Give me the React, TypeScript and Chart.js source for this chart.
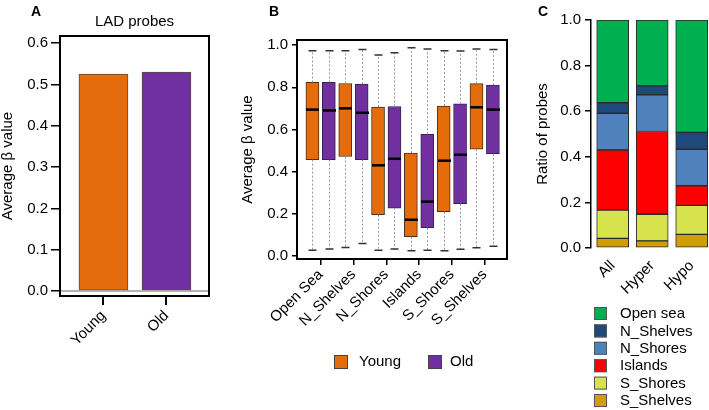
import React, { useEffect, useRef } from "react";
import { Chart, registerables } from "chart.js";

Chart.register(...registerables);

const FONT = "'Liberation Sans', Arial, Helvetica, sans-serif";

// ---------- Panel A data ----------
const ladGroups = ["Young", "Old"];
const ladValues = [0.525, 0.53];
const groupColors = ["#E46C0A", "#7030A0"];
const ladTicks = [0, 0.1, 0.2, 0.3, 0.4, 0.5, 0.6];

// ---------- Panel B data ----------
const regions = ["Open Sea", "N_Shelves", "N_Shores", "Islands", "S_Shores", "S_Shelves"];
const youngMin = [0.027, 0.041, 0.028, 0.025, 0.025, 0.039];
const youngQ1 = [0.457, 0.472, 0.196, 0.092, 0.21, 0.506];
const youngMedian = [0.694, 0.7, 0.43, 0.172, 0.452, 0.705];
const youngQ3 = [0.823, 0.818, 0.706, 0.488, 0.711, 0.817];
const youngMax = [0.973, 0.973, 0.953, 0.987, 0.973, 0.981];
const oldMin = [0.033, 0.06, 0.033, 0.028, 0.032, 0.047];
const oldQ1 = [0.457, 0.457, 0.227, 0.134, 0.248, 0.485];
const oldMedian = [0.69, 0.679, 0.461, 0.258, 0.48, 0.694];
const oldQ3 = [0.823, 0.815, 0.709, 0.577, 0.722, 0.81];
const oldMax = [0.973, 0.979, 0.964, 0.981, 0.972, 0.979];
const betaTicks = [0, 0.2, 0.4, 0.6, 0.8, 1.0];

// ---------- Panel C data ----------
const probeSets = ["All", "Hyper", "Hypo"];
const sShelves = [0.042, 0.031, 0.06];
const sShores = [0.124, 0.117, 0.127];
const islands = [0.264, 0.363, 0.086];
const nShores = [0.161, 0.161, 0.16];
const nShelves = [0.046, 0.039, 0.074];
const openSea = [0.363, 0.289, 0.493];
const ratioTicks = [0, 0.2, 0.4, 0.6, 0.8, 1.0];

const font15 = { family: FONT, size: 15 };

const framePlugin = {
  id: "frame",
  afterDraw(chart: any) {
    const { ctx, chartArea: a } = chart;
    ctx.save();
    ctx.strokeStyle = "#000";
    ctx.lineWidth = 2;
    ctx.strokeRect(a.left, a.top, a.right - a.left, a.bottom - a.top);
    ctx.restore();
  },
};

function textPlugin(items: { text: string; x: number; y: number; bold?: boolean; align?: string; size?: number }[]) {
  return {
    id: "texts",
    afterDraw(chart: any) {
      const ctx = chart.ctx;
      ctx.save();
      ctx.fillStyle = "#000";
      ctx.textBaseline = "alphabetic";
      items.forEach((it) => {
        ctx.font = `${it.bold ? "bold " : ""}${it.size || 15}px ${FONT}`;
        ctx.textAlign = it.align || "left";
        ctx.fillText(it.text, it.x, it.y);
      });
      ctx.restore();
    },
  };
}

function yScale(min: number, max: number, ticks: number[], width: number, tl: number, pad: number, title: string | null, titlePadTop: number, showBorder = false) {
  return {
    type: "linear",
    min,
    max,
    afterBuildTicks: (s: any) => {
      s.ticks = ticks.map((v) => ({ value: v }));
    },
    afterFit: (s: any) => {
      s.width = width;
    },
    ticks: { callback: (v: any) => Number(v).toFixed(1), font: font15, color: "#000", padding: pad, autoSkip: false },
    grid: { display: true, drawOnChartArea: false, drawTicks: true, tickLength: tl, color: "#000", lineWidth: 1.5 },
    border: { display: showBorder, color: "#000", width: 1.5 },
    title: title
      ? { display: true, text: title, font: font15, color: "#000", padding: { top: titlePadTop, bottom: 0 } }
      : { display: false },
  };
}

function configA() {
  const zeroLine = {
    id: "zeroLine",
    afterDatasetsDraw(chart: any) {
      const { ctx, chartArea: a, scales } = chart;
      const y = scales.y.getPixelForValue(0);
      ctx.save();
      ctx.strokeStyle = "#9a9a9a";
      ctx.lineWidth = 1.5;
      ctx.beginPath();
      ctx.moveTo(a.left, y);
      ctx.lineTo(a.right, y);
      ctx.stroke();
      ctx.restore();
    },
  };
  return {
    type: "bar",
    data: {
      datasets: [
        {
          label: "LAD probes",
          data: ladValues.map((v, i) => ({ x: i + 1, y: v })),
          backgroundColor: groupColors,
          borderColor: "#5a4a40",
          borderWidth: 1,
          borderSkipped: false,
          barThickness: 49,
        },
      ],
    },
    options: {
      responsive: false,
      animation: false,
      layout: { padding: { top: 36, left: 0, right: 21, bottom: 0 } },
      plugins: { legend: { display: false }, tooltip: { enabled: false } },
      scales: {
        x: {
          type: "linear",
          min: 0.31,
          max: 2.675,
          offset: false,
          afterBuildTicks: (s: any) => {
            s.ticks = ladGroups.map((_, i) => ({ value: i + 1 }));
          },
          afterFit: (s: any) => {
            s.height = 114;
          },
          ticks: {
            callback: (_v: any, i: number) => ladGroups[i],
            minRotation: 45,
            maxRotation: 45,
            font: font15,
            color: "#000",
            padding: 2,
            autoSkip: false,
          },
          grid: { display: true, offset: false, drawOnChartArea: false, drawTicks: true, tickLength: 9, color: "#000", lineWidth: 2 },
          border: { display: false },
        },
        y: yScale(-0.012, 0.617, ladTicks, 60, 9, 3, "Average β value", -1.5),
      },
    },
    plugins: [
      zeroLine,
      framePlugin,
      textPlugin([
        { text: "A", x: 31, y: 16, bold: true, size: 14 },
        { text: "LAD probes", x: 134.5, y: 26, align: "center" },
      ]),
    ],
  };
}

function configB() {
  const stats = [
    { min: youngMin, med: youngMedian, max: youngMax },
    { min: oldMin, med: oldMedian, max: oldMax },
  ];
  const boxPlugin = {
    id: "boxExtras",
    afterDatasetsDraw(chart: any) {
      const { ctx, scales } = chart;
      const xs = scales.x;
      const ys = scales.y;
      ctx.save();
      chart.data.datasets.forEach((ds: any, d: number) => {
        const st = stats[d];
        ds.data.forEach((pt: any, i: number) => {
          const x = Math.round(xs.getPixelForValue(pt.x)) + 0.5;
          const yMax = ys.getPixelForValue(st.max[i]);
          const yMin = ys.getPixelForValue(st.min[i]);
          const yQ3 = ys.getPixelForValue(pt.y[1]);
          const yQ1 = ys.getPixelForValue(pt.y[0]);
          const yMed = ys.getPixelForValue(st.med[i]);
          ctx.strokeStyle = "#9a9a9a";
          ctx.lineWidth = 1;
          ctx.setLineDash([2, 2]);
          ctx.beginPath();
          ctx.moveTo(x, yQ3);
          ctx.lineTo(x, yMax);
          ctx.moveTo(x, yQ1);
          ctx.lineTo(x, yMin);
          ctx.stroke();
          ctx.setLineDash([]);
          ctx.strokeStyle = "#333";
          ctx.lineWidth = 1.5;
          ctx.beginPath();
          ctx.moveTo(x - 4, yMax);
          ctx.lineTo(x + 4, yMax);
          ctx.moveTo(x - 4, yMin);
          ctx.lineTo(x + 4, yMin);
          ctx.stroke();
          ctx.strokeStyle = "#000";
          ctx.lineWidth = 2.5;
          ctx.beginPath();
          ctx.moveTo(x - 6.5, yMed);
          ctx.lineTo(x + 6.5, yMed);
          ctx.stroke();
        });
      });
      ctx.restore();
    },
  };
  const legendB = {
    id: "legendB",
    afterDraw(chart: any) {
      const ctx = chart.ctx;
      const pos = [
        { box: 104, text: 129 },
        { box: 198, text: 220 },
      ];
      ctx.save();
      chart.data.datasets.forEach((ds: any, i: number) => {
        ctx.fillStyle = ds.backgroundColor;
        ctx.fillRect(pos[i].box, 355, 14, 14);
        ctx.strokeStyle = "#444";
        ctx.lineWidth = 1;
        ctx.strokeRect(pos[i].box + 0.5, 355.5, 13, 13);
        ctx.fillStyle = "#000";
        ctx.font = `15px ${FONT}`;
        ctx.textBaseline = "middle";
        ctx.textAlign = "left";
        ctx.fillText(ds.label, pos[i].text, 362);
      });
      ctx.restore();
    },
  };
  return {
    type: "bar",
    data: {
      datasets: [
        {
          label: "Young",
          data: regions.map((_, i) => ({ x: 2 * i + 1, y: [youngQ1[i], youngQ3[i]] })),
          backgroundColor: groupColors[0],
          borderColor: "#4a2e18",
          borderWidth: 1,
          borderSkipped: false,
          barThickness: 13,
          grouped: false,
        },
        {
          label: "Old",
          data: regions.map((_, i) => ({ x: 2 * i + 2, y: [oldQ1[i], oldQ3[i]] })),
          backgroundColor: groupColors[1],
          borderColor: "#3a2050",
          borderWidth: 1,
          borderSkipped: false,
          barThickness: 13,
          grouped: false,
        },
      ],
    },
    options: {
      responsive: false,
      animation: false,
      layout: { padding: { top: 40, left: 0, right: 13, bottom: 0 } },
      plugins: { legend: { display: false }, tooltip: { enabled: false } },
      scales: {
        x: {
          type: "linear",
          min: 0.06,
          max: 12.86,
          offset: false,
          afterBuildTicks: (s: any) => {
            s.ticks = regions.map((_, i) => ({ value: 2 * i + 1.5 }));
          },
          afterFit: (s: any) => {
            s.height = 151;
          },
          ticks: {
            callback: (_v: any, i: number) => regions[i],
            minRotation: 45,
            maxRotation: 45,
            font: font15,
            color: "#000",
            padding: 1,
            autoSkip: false,
          },
          grid: { display: true, offset: false, drawOnChartArea: false, drawTicks: true, tickLength: 6, color: "#000", lineWidth: 1.5 },
          border: { display: false },
        },
        y: yScale(-0.014, 1.024, betaTicks, 67, 5, 4, "Average β value", 8.5),
      },
    },
    plugins: [boxPlugin, framePlugin, legendB, textPlugin([{ text: "B", x: 39, y: 16, bold: true, size: 14 }])],
  };
}

function configC() {
  const series = [
    { label: "S_Shelves", data: sShelves, color: "#D19E08" },
    { label: "S_Shores", data: sShores, color: "#D6E34C" },
    { label: "Islands", data: islands, color: "#FF0000" },
    { label: "N_Shores", data: nShores, color: "#4F81BD" },
    { label: "N_Shelves", data: nShelves, color: "#1F497D" },
    { label: "Open sea", data: openSea, color: "#00B050" },
  ];
  const legendC = {
    id: "legendC",
    afterDraw(chart: any) {
      const ctx = chart.ctx;
      const dsets = chart.data.datasets.slice().reverse();
      ctx.save();
      dsets.forEach((ds: any, k: number) => {
        const cy = 313.5 + k * 17.4;
        ctx.fillStyle = ds.backgroundColor;
        ctx.fillRect(74, cy - 6.5, 13, 13);
        ctx.strokeStyle = "#555";
        ctx.lineWidth = 1;
        ctx.strokeRect(74.5, cy - 6, 12, 12);
        ctx.fillStyle = "#000";
        ctx.font = `15px ${FONT}`;
        ctx.textBaseline = "middle";
        ctx.textAlign = "left";
        ctx.fillText(ds.label, 100, cy + 0.5);
      });
      ctx.restore();
    },
  };
  const y = yScale(0, 1, ratioTicks, 71, 6, 4, "Ratio of probes", 14, true);
  (y as any).stacked = true;
  return {
    type: "bar",
    data: {
      datasets: series.map((s) => ({
        label: s.label,
        data: s.data.map((v, i) => ({ x: i + 1, y: v })),
        backgroundColor: s.color,
        borderColor: "#2a2a2a",
        borderWidth: 1,
        borderSkipped: false,
        barThickness: 32,
      })),
    },
    options: {
      responsive: false,
      animation: false,
      layout: { padding: { top: 20, left: 0, right: 0, bottom: 0 } },
      plugins: { legend: { display: false }, tooltip: { enabled: false } },
      scales: {
        x: {
          type: "linear",
          stacked: true,
          min: 0.451,
          max: 3.438,
          offset: false,
          afterBuildTicks: (s: any) => {
            s.ticks = probeSets.map((_, i) => ({ value: i + 1 }));
          },
          afterFit: (s: any) => {
            s.height = 162;
          },
          ticks: {
            callback: (_v: any, i: number) => probeSets[i],
            minRotation: 45,
            maxRotation: 45,
            font: font15,
            color: "#000",
            padding: 1,
            autoSkip: false,
          },
          grid: { display: false },
          border: { display: false },
        },
        y,
      },
    },
    plugins: [legendC, textPlugin([{ text: "C", x: 18, y: 16, bold: true, size: 14 }])],
  };
}

function Panel({ left, width, make }: { left: number; width: number; make: () => any }) {
  const ref = useRef<HTMLCanvasElement>(null);
  useEffect(() => {
    const chart = new Chart(ref.current as HTMLCanvasElement, make());
    return () => chart.destroy();
  }, []);
  return (
    <canvas
      ref={ref}
      width={width}
      height={410}
      style={{ position: "absolute", left, top: 0, width, height: 410 }}
    />
  );
}

export default function App() {
  return (
    <div style={{ position: "absolute", left: 0, top: 0, width: 709, height: 410, background: "#fff", overflow: "hidden" }}>
      <Panel left={0} width={230} make={configA} />
      <Panel left={230} width={290} make={configB} />
      <Panel left={520} width={189} make={configC} />
    </div>
  );
}
